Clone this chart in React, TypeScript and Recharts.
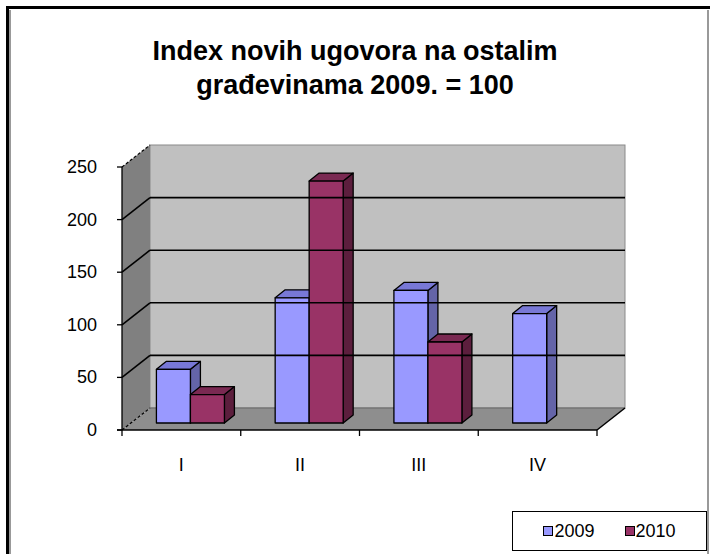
import { Bar, BarChart, XAxis, YAxis } from 'recharts'

const quarters = ['I', 'II', 'III', 'IV']
const index2009 = [51, 119, 126, 104]
const index2010: Array<number | null> = [27, 230, 77, null]
const yTicks = [0, 50, 100, 150, 200, 250]
const seriesNames = ['2009', '2010']

const data = quarters.map((q, i) => ({ name: q, y2009: index2009[i], y2010: index2010[i] }))

// plot area = the plane the bars stand in; front axis and back wall are shifted copies of it
const W = 710
const H = 554
const PL = 131
const PR = 606
const PT = 160
const PB = 423
const FDX = -9
const FDY = 7
const BDX = 19
const BDY = -15
const DEPTH_X = 10
const DEPTH_Y = -8
const FONT = '"Liberation Sans", Arial, sans-serif'

const faces2009 = { front: '#9999FF', top: '#7878D6', side: '#6464A8' }
const faces2010 = { front: '#993366', top: '#7A2952', side: '#5C1E3D' }

function Box3D(props: any) {
  const { x, y, width, height, faces } = props
  if (height == null || !(height > 0)) return null
  const x2 = x + width
  const y2 = y + height
  const edge = { stroke: '#000', strokeWidth: 1.3, strokeLinejoin: 'round' as const }
  return (
    <g>
      <polygon
        points={`${x2},${y} ${x2 + DEPTH_X},${y + DEPTH_Y} ${x2 + DEPTH_X},${y2 + DEPTH_Y} ${x2},${y2}`}
        fill={faces.side}
        {...edge}
      />
      <polygon
        points={`${x},${y} ${x + DEPTH_X},${y + DEPTH_Y} ${x2 + DEPTH_X},${y + DEPTH_Y} ${x2},${y}`}
        fill={faces.top}
        {...edge}
      />
      <rect x={x} y={y} width={width} height={height} fill={faces.front} {...edge} />
    </g>
  )
}

function Walls() {
  const fl = PL + FDX
  const fr = PR + FDX
  const bl = PL + BDX
  const br = PR + BDX
  const step = (PR - PL) / quarters.length
  return (
    <g>
      <rect x={bl} y={PT + BDY} width={br - bl} height={PB - PT} fill="#C0C0C0" stroke="#8a8a8a" />
      <polygon points={`${fl},${PB + FDY} ${fl},${PT + FDY} ${bl},${PT + BDY} ${bl},${PB + BDY}`} fill="#808080" />
      <polygon points={`${fl},${PB + FDY} ${fr},${PB + FDY} ${br},${PB + BDY} ${bl},${PB + BDY}`} fill="#8E8E8E" />
      <line x1={bl} y1={PB + BDY} x2={br} y2={PB + BDY} stroke="#666" strokeWidth={1.2} />
      <line x1={fr} y1={PB + FDY} x2={br} y2={PB + BDY} stroke="#000" strokeWidth={1.5} />
      <line x1={fl} y1={PT + FDY} x2={fl} y2={PB + FDY} stroke="#000" strokeWidth={1.3} />
      <line x1={fl - 5} y1={PB + FDY} x2={fr} y2={PB + FDY} stroke="#000" strokeWidth={1.3} />
      {quarters.concat(['']).map((_, i) => (
        <line key={i} x1={fl + i * step} y1={PB + FDY} x2={fl + i * step} y2={PB + FDY + 6} stroke="#000" strokeWidth={1.3} />
      ))}
    </g>
  )
}

// each y tick draws its label, its short tick, the line across the side wall and the back-wall gridline
function YTick(props: any) {
  const { y, payload } = props
  const fy = y + FDY
  const edge = payload.value === 0 || payload.value === 250
  return (
    <g>
      {!edge && (
        <line x1={PL + BDX} y1={y + BDY} x2={PR + BDX} y2={y + BDY} stroke="#000" strokeWidth={1.6} />
      )}
      <line x1={PL + FDX - 5} y1={fy} x2={PL + FDX} y2={fy} stroke="#000" strokeWidth={1.3} />
      <line
        x1={PL + FDX}
        y1={fy}
        x2={PL + BDX}
        y2={y + BDY}
        stroke="#000"
        strokeWidth={edge ? 1.2 : 1.6}
        strokeDasharray={edge ? '3 2' : undefined}
      />
      <text x={97} y={fy} textAnchor="end" dominantBaseline="central" fontFamily={FONT} fontSize={18} fill="#000">
        {payload.value}
      </text>
    </g>
  )
}

function XTick(props: any) {
  const { x, payload } = props
  return (
    <text x={x + FDX} y={465} textAnchor="middle" dominantBaseline="central" fontFamily={FONT} fontSize={18} fill="#000">
      {payload.value}
    </text>
  )
}

export default function App() {
  return (
    <div style={{ position: 'absolute', left: 0, top: 0, width: W, height: H, background: '#fff', overflow: 'hidden' }}>
      <div style={{ position: 'absolute', left: 6, top: 6, width: W - 6, height: 3, background: '#000' }} />
      <div style={{ position: 'absolute', left: 6, top: 6, width: 3, height: H - 6, background: '#000' }} />
      <div style={{ position: 'absolute', left: 9, top: 10, width: 1.5, height: H - 10, background: '#999' }} />
      <div style={{ position: 'absolute', left: 707, top: 10, width: 1.5, height: H - 10, background: '#999' }} />
      <div
        style={{
          position: 'absolute',
          left: 0,
          top: 34,
          width: W,
          textAlign: 'center',
          fontFamily: FONT,
          fontWeight: 'bold',
          fontSize: 27,
          lineHeight: '34px',
          color: '#000',
        }}
      >
        Index novih ugovora na ostalim
        <br />
        građevinama 2009. = 100
      </div>
      <div style={{ position: 'absolute', left: 0, top: 0 }}>
        <BarChart
          width={W}
          height={H}
          data={data}
          margin={{ top: PT, right: W - PR, bottom: H - PB - 30, left: PL - 40 }}
          barCategoryGap="21.4%"
          barGap={0}
        >
          <Walls />
          <XAxis dataKey="name" height={30} axisLine={false} tickLine={false} tick={XTick} />
          <YAxis width={40} domain={[0, 250]} ticks={yTicks} interval={0} axisLine={false} tickLine={false} tick={YTick} />
          <Bar dataKey="y2009" name={seriesNames[0]} fill={faces2009.front} isAnimationActive={false} shape={(p: any) => <Box3D {...p} faces={faces2009} />} />
          <Bar dataKey="y2010" name={seriesNames[1]} fill={faces2010.front} isAnimationActive={false} shape={(p: any) => <Box3D {...p} faces={faces2010} />} />
        </BarChart>
      </div>
      <div
        style={{
          position: 'absolute',
          left: 512,
          top: 511,
          width: 195,
          height: 40,
          boxSizing: 'border-box',
          border: '1.3px solid #000',
          background: '#fff',
          display: 'flex',
          alignItems: 'center',
          justifyContent: 'center',
          gap: 30,
          fontFamily: FONT,
          fontSize: 18,
        }}
      >
        {seriesNames.map((s, i) => (
          <span key={s} style={{ display: 'flex', alignItems: 'center' }}>
            <span
              style={{
                display: 'inline-block',
                width: 8,
                height: 8,
                border: '1.5px solid #000',
                background: i === 0 ? faces2009.front : faces2010.front,
                marginRight: 1,
              }}
            />
            {s}
          </span>
        ))}
      </div>
    </div>
  )
}
